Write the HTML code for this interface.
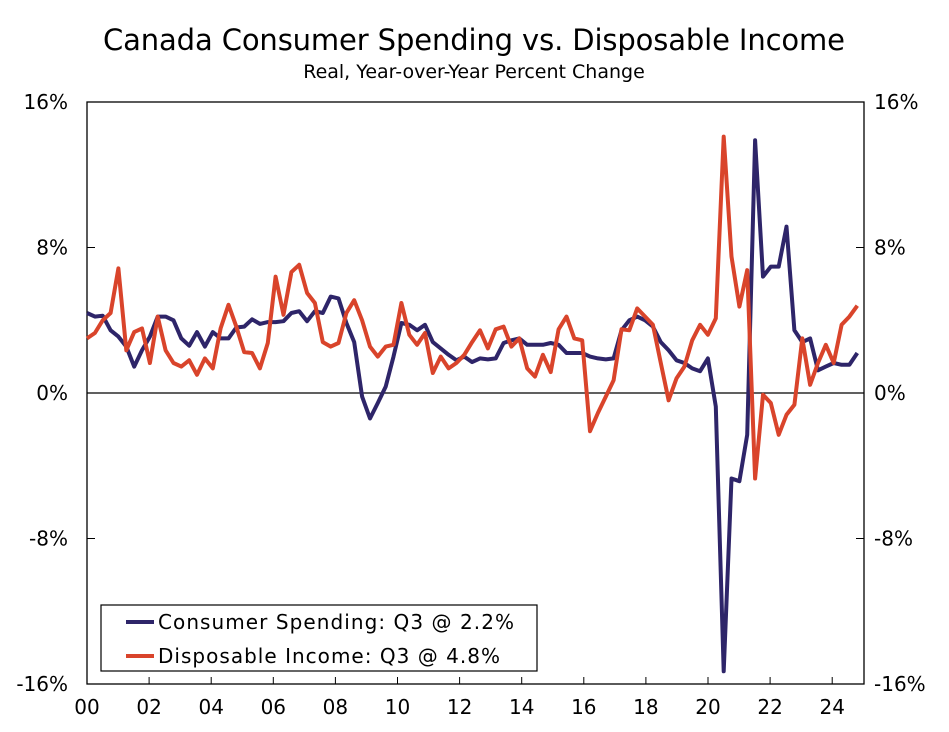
<!DOCTYPE html>
<html><head><meta charset="utf-8"><style>
body{margin:0;background:#fff;}
svg text{font-family:"DejaVu Sans","Liberation Sans",sans-serif;fill:#000;}
</style></head><body>
<svg id="chart" width="949" height="727" viewBox="0 0 949 727" xmlns="http://www.w3.org/2000/svg">
<text x="474" y="50" font-size="29" text-anchor="middle" textLength="742">Canada Consumer Spending vs. Disposable Income</text>
<text x="474" y="78" font-size="19" text-anchor="middle">Real, Year-over-Year Percent Change</text>
<g id="axes"></g>
<g id="series"></g>
<g>
<rect x="101" y="605" width="436" height="66" fill="#fff" stroke="#000" stroke-width="1.2"/>
<line x1="126" y1="622" x2="154" y2="622" stroke="#2e2569" stroke-width="4"/>
<text x="158" y="629" font-size="20" textLength="356">Consumer Spending: Q3 @ 2.2%</text>
<line x1="126" y1="656" x2="154" y2="656" stroke="#d9442b" stroke-width="4"/>
<text x="158" y="663" font-size="20" textLength="342">Disposable Income: Q3 @ 4.8%</text>
</g>
</svg>
<script>
const yTicks=[16,8,0,-8,-16];
const yTickLabels=["16%","8%","0%","-8%","-16%"];
const xTickYears=[0,2,4,6,8,10,12,14,16,18,20,22,24];
const xTickLabels=["00","02","04","06","08","10","12","14","16","18","20","22","24"];
const spending=[4.4,4.2,4.25,3.45,3.1,2.55,1.45,2.35,3.1,4.2,4.2,4.0,3.0,2.6,3.35,2.55,3.35,3.0,3.0,3.6,3.65,4.05,3.8,3.9,3.9,3.95,4.4,4.5,3.95,4.5,4.4,5.3,5.2,3.85,2.8,-0.2,-1.4,-0.55,0.35,2.0,3.85,3.75,3.45,3.75,2.8,2.45,2.1,1.8,2.0,1.7,1.9,1.85,1.9,2.75,2.9,3.0,2.65,2.65,2.65,2.75,2.65,2.2,2.2,2.2,2.0,1.9,1.85,1.9,3.45,4.0,4.2,4.0,3.65,2.8,2.35,1.8,1.65,1.35,1.2,1.9,-0.75,-15.3,-4.7,-4.85,-2.3,13.9,6.4,6.95,6.95,9.15,3.45,2.8,3.0,1.25,1.45,1.65,1.55,1.55,2.2];
const income=[3.0,3.3,4.0,4.4,6.85,2.35,3.35,3.55,1.65,4.2,2.35,1.65,1.45,1.8,1.0,1.9,1.35,3.55,4.85,3.65,2.25,2.2,1.35,2.75,6.4,4.3,6.65,7.05,5.5,4.95,2.8,2.55,2.75,4.4,5.1,4.0,2.55,2.0,2.55,2.65,4.95,3.2,2.65,3.3,1.1,2.0,1.35,1.65,2.1,2.8,3.45,2.45,3.5,3.65,2.55,3.0,1.35,0.9,2.1,1.15,3.5,4.2,3.0,2.9,-2.1,-1.1,-0.2,0.7,3.5,3.45,4.65,4.2,3.75,1.65,-0.4,0.8,1.45,2.9,3.75,3.2,4.1,14.1,7.5,4.75,6.75,-4.7,-0.1,-0.55,-2.3,-1.2,-0.65,3.0,0.45,1.65,2.65,1.65,3.75,4.2,4.8];
const X0=87,X1=864,Y0=102,Y1=684,PXY=31.05,PXQ=7.86;
function xQ(i){return X0+i*PXQ;}
function xYear(y){return X0+y*PXY;}
function yPos(v){return Y0+(16-v)/32*(Y1-Y0);}
const NS="http://www.w3.org/2000/svg";
const axes=document.getElementById('axes');
function mk(tag,attrs,parent){const e=document.createElementNS(NS,tag);for(const k in attrs)e.setAttribute(k,attrs[k]);parent.appendChild(e);return e;}
let e;
e=mk('rect',{x:X0,y:Y0,width:X1-X0,height:Y1-Y0,fill:'none',stroke:'#000','stroke-width':1.3},axes);


yTicks.forEach((t,k)=>{
 const y=yPos(t);
 if(t===0){e=mk('line',{x1:X0,x2:X1,y1:y,y2:y,stroke:'#000','stroke-width':1.3},axes);
  
  }
 else{e=mk('line',{x1:X0,x2:X0+8,y1:y,y2:y,stroke:'#000'},axes);
  
  
  e=mk('line',{x1:X1-8,x2:X1,y1:y,y2:y,stroke:'#000'},axes);
  
  }
 e=mk('text',{x:68,y:y+7,'font-size':20,'text-anchor':'end'},axes);e.textContent=yTickLabels[k];
 
 
 e=mk('text',{x:874,y:y+7,'font-size':20},axes);e.textContent=yTickLabels[k];
 
 
});
xTickYears.forEach((t,k)=>{
 const x=xYear(t);
 e=mk('line',{x1:x,x2:x,y1:Y1,y2:Y1-7,stroke:'#000'},axes);
 
 
 e=mk('text',{x:x,y:714,'font-size':20,'text-anchor':'middle'},axes);e.textContent=xTickLabels[k];
 
 
});
const sg=document.getElementById('series');
function line(data,color,name){
 const d=data.map((v,i)=>(i?'L':'M')+xQ(i).toFixed(1)+','+yPos(v).toFixed(1)).join(' ');
 const p=mk('path',{d:d,fill:'none',stroke:color,'stroke-width':4,'stroke-linejoin':'round'},sg);
 
 
}
line(spending,'#2e2569','consumer-spending-line');
line(income,'#d9442b','disposable-income-line');
</script>
</body></html>
